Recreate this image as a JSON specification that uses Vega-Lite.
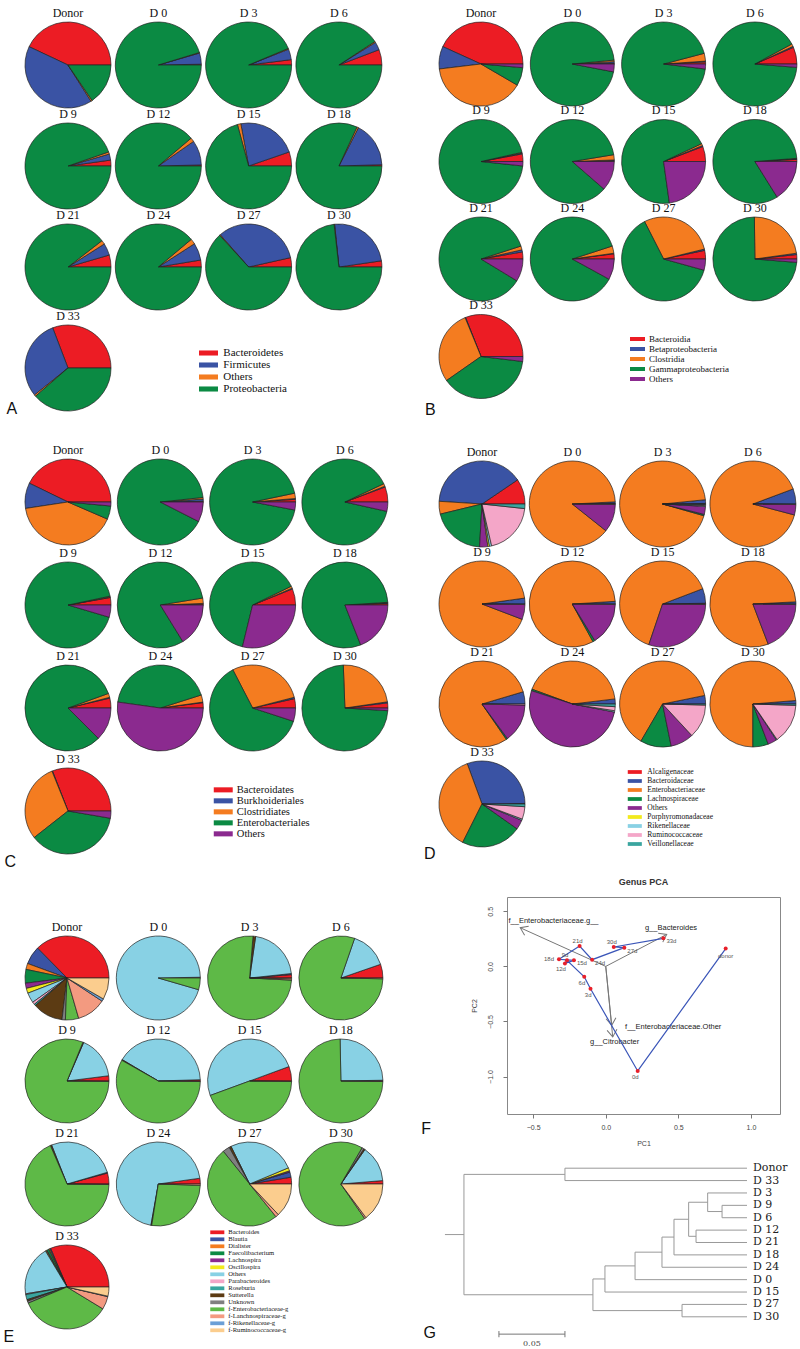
{
 "$schema": "https://vega.github.io/schema/vega-lite/v6.json",
 "padding": {"left": 3, "top": 6, "right": 0, "bottom": 0},
 "background": "white",
 "config": {"view": {"stroke": null}, "font": "Liberation Sans"},
 "datasets": {
  "A": [
   {"s":"Donor","c":"Bacteroidetes","v":0.43},{"s":"Donor","c":"Firmicutes","v":0.41},{"s":"Donor","c":"Others","v":0.005},{"s":"Donor","c":"Proteobacteria","v":0.155},
   {"s":"D 0","c":"Bacteroidetes","v":0.003},{"s":"D 0","c":"Firmicutes","v":0.042},{"s":"D 0","c":"Others","v":0.002},{"s":"D 0","c":"Proteobacteria","v":0.953},
   {"s":"D 3","c":"Bacteroidetes","v":0.02},{"s":"D 3","c":"Firmicutes","v":0.04},{"s":"D 3","c":"Others","v":0.003},{"s":"D 3","c":"Proteobacteria","v":0.937},
   {"s":"D 6","c":"Bacteroidetes","v":0.058},{"s":"D 6","c":"Firmicutes","v":0.03},{"s":"D 6","c":"Others","v":0.004},{"s":"D 6","c":"Proteobacteria","v":0.908},
   {"s":"D 9","c":"Bacteroidetes","v":0.022},{"s":"D 9","c":"Firmicutes","v":0.023},{"s":"D 9","c":"Others","v":0.008},{"s":"D 9","c":"Proteobacteria","v":0.947},
   {"s":"D 12","c":"Bacteroidetes","v":0.004},{"s":"D 12","c":"Firmicutes","v":0.093},{"s":"D 12","c":"Others","v":0.015},{"s":"D 12","c":"Proteobacteria","v":0.888},
   {"s":"D 15","c":"Bacteroidetes","v":0.053},{"s":"D 15","c":"Firmicutes","v":0.226},{"s":"D 15","c":"Others","v":0.013},{"s":"D 15","c":"Proteobacteria","v":0.708},
   {"s":"D 18","c":"Bacteroidetes","v":0.005},{"s":"D 18","c":"Firmicutes","v":0.17},{"s":"D 18","c":"Others","v":0.006},{"s":"D 18","c":"Proteobacteria","v":0.819},
   {"s":"D 21","c":"Bacteroidetes","v":0.045},{"s":"D 21","c":"Firmicutes","v":0.045},{"s":"D 21","c":"Others","v":0.015},{"s":"D 21","c":"Proteobacteria","v":0.895},
   {"s":"D 24","c":"Bacteroidetes","v":0.026},{"s":"D 24","c":"Firmicutes","v":0.065},{"s":"D 24","c":"Others","v":0.02},{"s":"D 24","c":"Proteobacteria","v":0.889},
   {"s":"D 27","c":"Bacteroidetes","v":0.035},{"s":"D 27","c":"Firmicutes","v":0.33},{"s":"D 27","c":"Others","v":0.003},{"s":"D 27","c":"Proteobacteria","v":0.632},
   {"s":"D 30","c":"Bacteroidetes","v":0.023},{"s":"D 30","c":"Firmicutes","v":0.243},{"s":"D 30","c":"Others","v":0.002},{"s":"D 30","c":"Proteobacteria","v":0.732},
   {"s":"D 33","c":"Bacteroidetes","v":0.308},{"s":"D 33","c":"Firmicutes","v":0.30},{"s":"D 33","c":"Others","v":0.006},{"s":"D 33","c":"Proteobacteria","v":0.386}
  ],
  "B": [
   {"s":"Donor","c":"Bacteroidia","v":0.432},{"s":"Donor","c":"Betaproteobacteria","v":0.087},{"s":"Donor","c":"Clostridia","v":0.397},{"s":"Donor","c":"Gammaproteobacteria","v":0.07},{"s":"Donor","c":"Others","v":0.014},
   {"s":"D 0","c":"Bacteroidia","v":0.003},{"s":"D 0","c":"Betaproteobacteria","v":0.006},{"s":"D 0","c":"Clostridia","v":0.006},{"s":"D 0","c":"Gammaproteobacteria","v":0.955},{"s":"D 0","c":"Others","v":0.03},
   {"s":"D 3","c":"Bacteroidia","v":0.008},{"s":"D 3","c":"Betaproteobacteria","v":0.003},{"s":"D 3","c":"Clostridia","v":0.03},{"s":"D 3","c":"Gammaproteobacteria","v":0.94},{"s":"D 3","c":"Others","v":0.019},
   {"s":"D 6","c":"Bacteroidia","v":0.065},{"s":"D 6","c":"Betaproteobacteria","v":0.004},{"s":"D 6","c":"Clostridia","v":0.01},{"s":"D 6","c":"Gammaproteobacteria","v":0.908},{"s":"D 6","c":"Others","v":0.013},
   {"s":"D 9","c":"Bacteroidia","v":0.029},{"s":"D 9","c":"Betaproteobacteria","v":0.003},{"s":"D 9","c":"Clostridia","v":0.003},{"s":"D 9","c":"Gammaproteobacteria","v":0.948},{"s":"D 9","c":"Others","v":0.017},
   {"s":"D 12","c":"Bacteroidia","v":0.004},{"s":"D 12","c":"Betaproteobacteria","v":0.002},{"s":"D 12","c":"Clostridia","v":0.02},{"s":"D 12","c":"Gammaproteobacteria","v":0.86},{"s":"D 12","c":"Others","v":0.114},
   {"s":"D 15","c":"Bacteroidia","v":0.058},{"s":"D 15","c":"Betaproteobacteria","v":0.004},{"s":"D 15","c":"Clostridia","v":0.008},{"s":"D 15","c":"Gammaproteobacteria","v":0.702},{"s":"D 15","c":"Others","v":0.228},
   {"s":"D 18","c":"Bacteroidia","v":0.008},{"s":"D 18","c":"Betaproteobacteria","v":0.002},{"s":"D 18","c":"Clostridia","v":0.002},{"s":"D 18","c":"Gammaproteobacteria","v":0.827},{"s":"D 18","c":"Others","v":0.161},
   {"s":"D 21","c":"Bacteroidia","v":0.027},{"s":"D 21","c":"Betaproteobacteria","v":0.008},{"s":"D 21","c":"Clostridia","v":0.015},{"s":"D 21","c":"Gammaproteobacteria","v":0.863},{"s":"D 21","c":"Others","v":0.087},
   {"s":"D 24","c":"Bacteroidia","v":0.02},{"s":"D 24","c":"Betaproteobacteria","v":0.002},{"s":"D 24","c":"Clostridia","v":0.028},{"s":"D 24","c":"Gammaproteobacteria","v":0.87},{"s":"D 24","c":"Others","v":0.08},
   {"s":"D 27","c":"Bacteroidia","v":0.033},{"s":"D 27","c":"Betaproteobacteria","v":0.005},{"s":"D 27","c":"Clostridia","v":0.287},{"s":"D 27","c":"Gammaproteobacteria","v":0.632},{"s":"D 27","c":"Others","v":0.043},
   {"s":"D 30","c":"Bacteroidia","v":0.017},{"s":"D 30","c":"Betaproteobacteria","v":0.005},{"s":"D 30","c":"Clostridia","v":0.23},{"s":"D 30","c":"Gammaproteobacteria","v":0.735},{"s":"D 30","c":"Others","v":0.013},
   {"s":"D 33","c":"Bacteroidia","v":0.31},{"s":"D 33","c":"Betaproteobacteria","v":0.002},{"s":"D 33","c":"Clostridia","v":0.285},{"s":"D 33","c":"Gammaproteobacteria","v":0.384},{"s":"D 33","c":"Others","v":0.019}
  ],
  "C": [
   {"s":"Donor","c":"Bacteroidates","v":0.428},{"s":"Donor","c":"Burkhoideriales","v":0.096},{"s":"Donor","c":"Clostridiates","v":0.411},{"s":"Donor","c":"Enterobacteriales","v":0.05},{"s":"Donor","c":"Others","v":0.015},
   {"s":"D 0","c":"Bacteroidates","v":0.003},{"s":"D 0","c":"Burkhoideriales","v":0.008},{"s":"D 0","c":"Clostridiates","v":0.006},{"s":"D 0","c":"Enterobacteriales","v":0.908},{"s":"D 0","c":"Others","v":0.075},
   {"s":"D 3","c":"Bacteroidates","v":0.01},{"s":"D 3","c":"Burkhoideriales","v":0.003},{"s":"D 3","c":"Clostridiates","v":0.02},{"s":"D 3","c":"Enterobacteriales","v":0.937},{"s":"D 3","c":"Others","v":0.03},
   {"s":"D 6","c":"Bacteroidates","v":0.057},{"s":"D 6","c":"Burkhoideriales","v":0.003},{"s":"D 6","c":"Clostridiates","v":0.01},{"s":"D 6","c":"Enterobacteriales","v":0.895},{"s":"D 6","c":"Others","v":0.035},
   {"s":"D 9","c":"Bacteroidates","v":0.028},{"s":"D 9","c":"Burkhoideriales","v":0.002},{"s":"D 9","c":"Clostridiates","v":0.003},{"s":"D 9","c":"Enterobacteriales","v":0.921},{"s":"D 9","c":"Others","v":0.046},
   {"s":"D 12","c":"Bacteroidates","v":0.004},{"s":"D 12","c":"Burkhoideriales","v":0.002},{"s":"D 12","c":"Clostridiates","v":0.02},{"s":"D 12","c":"Enterobacteriales","v":0.812},{"s":"D 12","c":"Others","v":0.162},
   {"s":"D 15","c":"Bacteroidates","v":0.061},{"s":"D 15","c":"Burkhoideriales","v":0.003},{"s":"D 15","c":"Clostridiates","v":0.008},{"s":"D 15","c":"Enterobacteriales","v":0.64},{"s":"D 15","c":"Others","v":0.288},
   {"s":"D 18","c":"Bacteroidates","v":0.006},{"s":"D 18","c":"Burkhoideriales","v":0.002},{"s":"D 18","c":"Clostridiates","v":0.002},{"s":"D 18","c":"Enterobacteriales","v":0.8},{"s":"D 18","c":"Others","v":0.19},
   {"s":"D 21","c":"Bacteroidates","v":0.037},{"s":"D 21","c":"Burkhoideriales","v":0.003},{"s":"D 21","c":"Clostridiates","v":0.015},{"s":"D 21","c":"Enterobacteriales","v":0.82},{"s":"D 21","c":"Others","v":0.125},
   {"s":"D 24","c":"Bacteroidates","v":0.02},{"s":"D 24","c":"Burkhoideriales","v":0.002},{"s":"D 24","c":"Clostridiates","v":0.027},{"s":"D 24","c":"Enterobacteriales","v":0.429},{"s":"D 24","c":"Others","v":0.522},
   {"s":"D 27","c":"Bacteroidates","v":0.035},{"s":"D 27","c":"Burkhoideriales","v":0.005},{"s":"D 27","c":"Clostridiates","v":0.286},{"s":"D 27","c":"Enterobacteriales","v":0.624},{"s":"D 27","c":"Others","v":0.05},
   {"s":"D 30","c":"Bacteroidates","v":0.019},{"s":"D 30","c":"Burkhoideriales","v":0.004},{"s":"D 30","c":"Clostridiates","v":0.233},{"s":"D 30","c":"Enterobacteriales","v":0.734},{"s":"D 30","c":"Others","v":0.01},
   {"s":"D 33","c":"Bacteroidates","v":0.309},{"s":"D 33","c":"Burkhoideriales","v":0.002},{"s":"D 33","c":"Clostridiates","v":0.295},{"s":"D 33","c":"Enterobacteriales","v":0.367},{"s":"D 33","c":"Others","v":0.027}
  ],
  "D": [
   {"s":"Donor","c":"Alcaligenaceae","v":0.095},{"s":"Donor","c":"Bacteroidaceae","v":0.395},{"s":"Donor","c":"Enterobacteriaceae","v":0.048},{"s":"Donor","c":"Lachnospiraceae","v":0.203},{"s":"Donor","c":"Others","v":0.031},{"s":"Donor","c":"Porphyromonadaceae","v":0.006},{"s":"Donor","c":"Rikenellaceae","v":0.008},{"s":"Donor","c":"Ruminococcaceae","v":0.197},{"s":"Donor","c":"Veillonellaceae","v":0.017},
   {"s":"D 0","c":"Alcaligenaceae","v":0.002},{"s":"D 0","c":"Bacteroidaceae","v":0.006},{"s":"D 0","c":"Enterobacteriaceae","v":0.885},{"s":"D 0","c":"Others","v":0.105},{"s":"D 0","c":"Ruminococcaceae","v":0.002},
   {"s":"D 3","c":"Alcaligenaceae","v":0.002},{"s":"D 3","c":"Bacteroidaceae","v":0.014},{"s":"D 3","c":"Enterobacteriaceae","v":0.94},{"s":"D 3","c":"Lachnospiraceae","v":0.005},{"s":"D 3","c":"Others","v":0.03},{"s":"D 3","c":"Rikenellaceae","v":0.003},{"s":"D 3","c":"Ruminococcaceae","v":0.004},{"s":"D 3","c":"Veillonellaceae","v":0.002},
   {"s":"D 6","c":"Bacteroidaceae","v":0.057},{"s":"D 6","c":"Enterobacteriaceae","v":0.902},{"s":"D 6","c":"Others","v":0.039},{"s":"D 6","c":"Ruminococcaceae","v":0.002},
   {"s":"D 9","c":"Bacteroidaceae","v":0.022},{"s":"D 9","c":"Enterobacteriaceae","v":0.92},{"s":"D 9","c":"Others","v":0.056},{"s":"D 9","c":"Ruminococcaceae","v":0.002},
   {"s":"D 12","c":"Bacteroidaceae","v":0.01},{"s":"D 12","c":"Enterobacteriaceae","v":0.82},{"s":"D 12","c":"Lachnospiraceae","v":0.008},{"s":"D 12","c":"Others","v":0.16},{"s":"D 12","c":"Ruminococcaceae","v":0.002},
   {"s":"D 15","c":"Alcaligenaceae","v":0.003},{"s":"D 15","c":"Bacteroidaceae","v":0.055},{"s":"D 15","c":"Enterobacteriaceae","v":0.64},{"s":"D 15","c":"Others","v":0.3},{"s":"D 15","c":"Ruminococcaceae","v":0.002},
   {"s":"D 18","c":"Bacteroidaceae","v":0.008},{"s":"D 18","c":"Enterobacteriaceae","v":0.8},{"s":"D 18","c":"Others","v":0.19},{"s":"D 18","c":"Ruminococcaceae","v":0.002},
   {"s":"D 21","c":"Bacteroidaceae","v":0.046},{"s":"D 21","c":"Enterobacteriaceae","v":0.8},{"s":"D 21","c":"Lachnospiraceae","v":0.005},{"s":"D 21","c":"Others","v":0.145},{"s":"D 21","c":"Ruminococcaceae","v":0.004},
   {"s":"D 24","c":"Bacteroidaceae","v":0.019},{"s":"D 24","c":"Enterobacteriaceae","v":0.425},{"s":"D 24","c":"Lachnospiraceae","v":0.006},{"s":"D 24","c":"Others","v":0.52},{"s":"D 24","c":"Rikenellaceae","v":0.005},{"s":"D 24","c":"Ruminococcaceae","v":0.015},{"s":"D 24","c":"Veillonellaceae","v":0.01},
   {"s":"D 27","c":"Bacteroidaceae","v":0.032},{"s":"D 27","c":"Enterobacteriaceae","v":0.634},{"s":"D 27","c":"Lachnospiraceae","v":0.116},{"s":"D 27","c":"Others","v":0.087},{"s":"D 27","c":"Ruminococcaceae","v":0.127},{"s":"D 27","c":"Veillonellaceae","v":0.004},
   {"s":"D 30","c":"Bacteroidaceae","v":0.013},{"s":"D 30","c":"Enterobacteriaceae","v":0.737},{"s":"D 30","c":"Lachnospiraceae","v":0.058},{"s":"D 30","c":"Others","v":0.034},{"s":"D 30","c":"Rikenellaceae","v":0.003},{"s":"D 30","c":"Ruminococcaceae","v":0.15},{"s":"D 30","c":"Veillonellaceae","v":0.005},
   {"s":"D 33","c":"Alcaligenaceae","v":0.002},{"s":"D 33","c":"Bacteroidaceae","v":0.304},{"s":"D 33","c":"Enterobacteriaceae","v":0.37},{"s":"D 33","c":"Lachnospiraceae","v":0.226},{"s":"D 33","c":"Others","v":0.036},{"s":"D 33","c":"Rikenellaceae","v":0.005},{"s":"D 33","c":"Ruminococcaceae","v":0.047},{"s":"D 33","c":"Veillonellaceae","v":0.01}
  ],
  "E": [
   {"s":"Donor","c":"Bacteroides","v":0.374},{"s":"Donor","c":"Blautia","v":0.07},{"s":"Donor","c":"Dialister","v":0.023},{"s":"Donor","c":"Faecolibacterium","v":0.053},{"s":"Donor","c":"Lachnospira","v":0.02},{"s":"Donor","c":"Oscillospira","v":0.019},{"s":"Donor","c":"Others","v":0.039},{"s":"Donor","c":"Parabacteroides","v":0.01},{"s":"Donor","c":"Roseburia","v":0.006},{"s":"Donor","c":"Sutterella","v":0.117},{"s":"Donor","c":"Unknown","v":0.013},{"s":"Donor","c":"f-Enterobacteriaceae-g","v":0.051},{"s":"Donor","c":"f-Lanchnospiraceae-g","v":0.112},{"s":"Donor","c":"f-Rikenellaceae-g","v":0.01},{"s":"Donor","c":"f-Ruminococcaceae-g","v":0.083},
   {"s":"D 0","c":"Bacteroides","v":0.003},{"s":"D 0","c":"Others","v":0.952},{"s":"D 0","c":"f-Enterobacteriaceae-g","v":0.045},
   {"s":"D 3","c":"Bacteroides","v":0.013},{"s":"D 3","c":"Blautia","v":0.004},{"s":"D 3","c":"Others","v":0.21},{"s":"D 3","c":"Sutterella","v":0.01},{"s":"D 3","c":"f-Enterobacteriaceae-g","v":0.755},{"s":"D 3","c":"f-Lanchnospiraceae-g","v":0.005},{"s":"D 3","c":"f-Ruminococcaceae-g","v":0.003},
   {"s":"D 6","c":"Bacteroides","v":0.053},{"s":"D 6","c":"Others","v":0.144},{"s":"D 6","c":"f-Enterobacteriaceae-g","v":0.8},{"s":"D 6","c":"f-Ruminococcaceae-g","v":0.003},
   {"s":"D 9","c":"Bacteroides","v":0.02},{"s":"D 9","c":"Others","v":0.165},{"s":"D 9","c":"Sutterella","v":0.003},{"s":"D 9","c":"f-Enterobacteriaceae-g","v":0.81},{"s":"D 9","c":"f-Lanchnospiraceae-g","v":0.002},
   {"s":"D 12","c":"Bacteroides","v":0.005},{"s":"D 12","c":"Others","v":0.41},{"s":"D 12","c":"Sutterella","v":0.003},{"s":"D 12","c":"f-Enterobacteriaceae-g","v":0.58},{"s":"D 12","c":"f-Lanchnospiraceae-g","v":0.002},
   {"s":"D 15","c":"Bacteroides","v":0.056},{"s":"D 15","c":"Others","v":0.5},{"s":"D 15","c":"f-Enterobacteriaceae-g","v":0.442},{"s":"D 15","c":"f-Lanchnospiraceae-g","v":0.002},
   {"s":"D 18","c":"Bacteroides","v":0.003},{"s":"D 18","c":"Others","v":0.25},{"s":"D 18","c":"f-Enterobacteriaceae-g","v":0.745},{"s":"D 18","c":"f-Lanchnospiraceae-g","v":0.002},
   {"s":"D 21","c":"Bacteroides","v":0.042},{"s":"D 21","c":"Blautia","v":0.003},{"s":"D 21","c":"Others","v":0.265},{"s":"D 21","c":"Sutterella","v":0.005},{"s":"D 21","c":"f-Enterobacteriaceae-g","v":0.683},{"s":"D 21","c":"f-Lanchnospiraceae-g","v":0.002},
   {"s":"D 24","c":"Bacteroides","v":0.022},{"s":"D 24","c":"Others","v":0.7},{"s":"D 24","c":"Sutterella","v":0.003},{"s":"D 24","c":"f-Enterobacteriaceae-g","v":0.27},{"s":"D 24","c":"f-Lanchnospiraceae-g","v":0.005},
   {"s":"D 27","c":"Bacteroides","v":0.026},{"s":"D 27","c":"Blautia","v":0.02},{"s":"D 27","c":"Lachnospira","v":0.005},{"s":"D 27","c":"Oscillospira","v":0.012},{"s":"D 27","c":"Others","v":0.26},{"s":"D 27","c":"Sutterella","v":0.008},{"s":"D 27","c":"Unknown","v":0.027},{"s":"D 27","c":"f-Enterobacteriaceae-g","v":0.5},{"s":"D 27","c":"f-Lanchnospiraceae-g","v":0.012},{"s":"D 27","c":"f-Ruminococcaceae-g","v":0.13},
   {"s":"D 30","c":"Bacteroides","v":0.013},{"s":"D 30","c":"Others","v":0.14},{"s":"D 30","c":"Sutterella","v":0.005},{"s":"D 30","c":"Unknown","v":0.008},{"s":"D 30","c":"f-Enterobacteriaceae-g","v":0.68},{"s":"D 30","c":"f-Lanchnospiraceae-g","v":0.006},{"s":"D 30","c":"f-Ruminococcaceae-g","v":0.148},
   {"s":"D 33","c":"Bacteroides","v":0.314},{"s":"D 33","c":"Blautia","v":0.004},{"s":"D 33","c":"Dialister","v":0.004},{"s":"D 33","c":"Faecolibacterium","v":0.008},{"s":"D 33","c":"Lachnospira","v":0.003},{"s":"D 33","c":"Oscillospira","v":0.003},{"s":"D 33","c":"Others","v":0.19},{"s":"D 33","c":"Parabacteroides","v":0.003},{"s":"D 33","c":"Roseburia","v":0.02},{"s":"D 33","c":"Sutterella","v":0.006},{"s":"D 33","c":"Unknown","v":0.008},{"s":"D 33","c":"f-Enterobacteriaceae-g","v":0.35},{"s":"D 33","c":"f-Lanchnospiraceae-g","v":0.05},{"s":"D 33","c":"f-Rikenellaceae-g","v":0.002},{"s":"D 33","c":"f-Ruminococcaceae-g","v":0.035}
  ],
  "pca": [
   {"n":"donor","t":-1,"x":0.826,"y":0.162},{"n":"0d","t":0,"x":0.22,"y":-0.949},{"n":"3d","t":3,"x":-0.105,"y":-0.203},{"n":"6d","t":6,"x":-0.148,"y":-0.094},{"n":"9d","t":9,"x":-0.267,"y":0.055},{"n":"12d","t":12,"x":-0.281,"y":0.027},{"n":"15d","t":15,"x":-0.219,"y":0.055},{"n":"18d","t":18,"x":-0.322,"y":0.064},{"n":"21d","t":21,"x":-0.18,"y":0.185},{"n":"24d","t":24,"x":-0.094,"y":0.061},{"n":"27d","t":27,"x":0.128,"y":0.17},{"n":"30d","t":30,"x":0.055,"y":0.176},{"n":"33d","t":33,"x":0.397,"y":0.255}
  ],
  "arrows": [
   {"n":"f__Enterobacteriaceae.g__","x":-0.589,"y":0.351,"lx":-0.67,"ly":0.41},
   {"n":"g__Bacteroides","x":0.42,"y":0.29,"lx":0.27,"ly":0.352},
   {"n":"f__Enterobacteriaceae.Other","x":0.041,"y":-0.535,"lx":0.133,"ly":-0.55},
   {"n":"g__Citrobacter","x":0.048,"y":-0.64,"lx":-0.108,"ly":-0.69}
  ],
  "tree": [
   {"x":0.2288,"x2":0.2144,"y":5.36,"y2":5.36},{"x":0.2144,"x2":0.2144,"y":0.5,"y2":10.22},
   {"x":0.2144,"x2":0.1379,"y":0.5,"y2":0.5},{"x":0.2144,"x2":0.1167,"y":10.22,"y2":10.22},
   {"x":0.1379,"x2":0.1379,"y":0,"y2":1},{"x":0.1379,"x2":0,"y":0,"y2":0},{"x":0.1379,"x2":0,"y":1,"y2":1},
   {"x":0.1167,"x2":0.1167,"y":8.945,"y2":11.5},{"x":0.1167,"x2":0.1076,"y":8.945,"y2":8.945},{"x":0.1167,"x2":0.0492,"y":11.5,"y2":11.5},
   {"x":0.0492,"x2":0.0492,"y":11,"y2":12},{"x":0.0492,"x2":0,"y":11,"y2":11},{"x":0.0492,"x2":0,"y":12,"y2":12},
   {"x":0.1076,"x2":0.1076,"y":7.89,"y2":10},{"x":0.1076,"x2":0,"y":10,"y2":10},{"x":0.1076,"x2":0.0848,"y":7.89,"y2":7.89},
   {"x":0.0848,"x2":0.0848,"y":6.78,"y2":9},{"x":0.0848,"x2":0,"y":9,"y2":9},{"x":0.0848,"x2":0.0644,"y":6.78,"y2":6.78},
   {"x":0.0644,"x2":0.0644,"y":5.5625,"y2":8},{"x":0.0644,"x2":0,"y":8,"y2":8},{"x":0.0644,"x2":0.0553,"y":5.5625,"y2":5.5625},
   {"x":0.0553,"x2":0.0553,"y":4.125,"y2":7},{"x":0.0553,"x2":0,"y":7,"y2":7},{"x":0.0553,"x2":0.0442,"y":4.125,"y2":4.125},
   {"x":0.0442,"x2":0.0442,"y":2.75,"y2":5.5},{"x":0.0442,"x2":0.0386,"y":5.5,"y2":5.5},
   {"x":0.0386,"x2":0.0386,"y":5,"y2":6},{"x":0.0386,"x2":0,"y":5,"y2":5},{"x":0.0386,"x2":0,"y":6,"y2":6},
   {"x":0.0442,"x2":0.0298,"y":2.75,"y2":2.75},{"x":0.0298,"x2":0.0298,"y":2,"y2":3.5},{"x":0.0298,"x2":0,"y":2,"y2":2},
   {"x":0.0298,"x2":0.0189,"y":3.5,"y2":3.5},{"x":0.0189,"x2":0.0189,"y":3,"y2":4},{"x":0.0189,"x2":0,"y":3,"y2":3},{"x":0.0189,"x2":0,"y":4,"y2":4}
  ],
  "leaves": [
   {"n":"Donor","y":0},{"n":"D 33","y":1},{"n":"D 3","y":2},{"n":"D 9","y":3},{"n":"D 6","y":4},{"n":"D 12","y":5},{"n":"D 21","y":6},{"n":"D 18","y":7},{"n":"D 24","y":8},{"n":"D 0","y":9},{"n":"D 15","y":10},{"n":"D 27","y":11},{"n":"D 30","y":12}
  ],
  "bar": [
   {"x":0.1879,"x2":0.1379,"y":13.4,"y2":13.4},{"x":0.1879,"x2":0.1879,"y":13.15,"y2":13.65},{"x":0.1379,"x2":0.1379,"y":13.15,"y2":13.65}
  ]
 },
 "spacing": 31,
 "resolve": {"scale": {"color": "independent"}, "legend": {"color": "independent"}},
 "hconcat": [
  {
   "spacing": 25,
   "resolve": {"scale": {"color": "independent"}, "legend": {"color": "independent"}},
   "vconcat": [
    {
     "data": {"name": "A"},
     "facet": {"field": "s", "type": "nominal", "sort": ["Donor","D 0","D 3","D 6","D 9","D 12","D 15","D 18","D 21","D 24","D 27","D 30","D 33"], "header": {"title": null, "labelFont": "Liberation Serif", "labelFontSize": 12, "labelPadding": 1, "labelColor": "#111"}},
     "columns": 4,
     "spacing": {"row": -3, "column": 0.3},
     "title": {"text": "A", "orient": "bottom", "anchor": "start", "dx": -17, "offset": -11, "font": "Liberation Sans", "fontSize": 16, "fontWeight": "normal", "color": "#111"},
     "spec": {
      "width": 86, "height": 86, "view": {"stroke": null},
      "mark": {"type": "arc", "stroke": "#222", "strokeWidth": 0.7},
      "encoding": {
       "theta": {"field": "v", "type": "quantitative", "stack": "normalize", "scale": {"domain": [0, 1], "range": [1.5708, -4.7124]}},
       "color": {"field": "c", "type": "nominal", "scale": {"domain": ["Bacteroidetes","Firmicutes","Others","Proteobacteria"], "range": ["#ec1c24","#3a53a4","#f47c20","#0b8a43"]},
        "legend": {"title": null, "orient": "none", "legendX": 178, "legendY": 325.5, "padding": 0, "symbolType": "M-3,-0.8H3V0.8H-3Z", "symbolSize": 40, "symbolStrokeWidth": 0, "labelFont": "Liberation Serif", "labelFontSize": 11, "labelColor": "#111", "rowPadding": 0, "labelOffset": 9.3}},
       "order": {"field": "c", "sort": "ascending"}
      }
     }
    },
    {
     "spacing": 49,
     "resolve": {"scale": {"color": "independent"}, "legend": {"color": "independent"}},
     "vconcat": [
      {
       "data": {"name": "C"},
       "facet": {"field": "s", "type": "nominal", "sort": ["Donor","D 0","D 3","D 6","D 9","D 12","D 15","D 18","D 21","D 24","D 27","D 30","D 33"], "header": {"title": null, "labelFont": "Liberation Serif", "labelFontSize": 12, "labelPadding": 1, "labelColor": "#111"}},
       "columns": 4,
       "spacing": {"row": -1, "column": 2.3},
       "title": {"text": "C", "orient": "bottom", "anchor": "start", "dx": -19, "offset": -1, "font": "Liberation Sans", "fontSize": 16, "fontWeight": "normal", "color": "#111"},
       "spec": {
        "width": 86, "height": 86, "view": {"stroke": null},
        "mark": {"type": "arc", "stroke": "#222", "strokeWidth": 0.7},
        "encoding": {
         "theta": {"field": "v", "type": "quantitative", "stack": "normalize", "scale": {"domain": [0, 1], "range": [1.5708, -4.7124]}},
         "color": {"field": "c", "type": "nominal", "scale": {"domain": ["Bacteroidates","Burkhoideriales","Clostridiates","Enterobacteriales","Others"], "range": ["#ec1c24","#3a53a4","#f47c20","#0b8a43","#8b2a8f"]},
          "legend": {"title": null, "orient": "none", "legendX": 193, "legendY": 325.6, "padding": 0, "symbolType": "M-3,-0.8H3V0.8H-3Z", "symbolSize": 40, "symbolStrokeWidth": 0, "labelFont": "Liberation Serif", "labelFontSize": 10.5, "labelColor": "#111", "rowPadding": 0, "labelOffset": 8.3}},
         "order": {"field": "c", "sort": "ascending"}
        }
       }
      },
      {
       "data": {"name": "E"},
       "facet": {"field": "s", "type": "nominal", "sort": ["Donor","D 0","D 3","D 6","D 9","D 12","D 15","D 18","D 21","D 24","D 27","D 30","D 33"], "header": {"title": null, "labelFont": "Liberation Serif", "labelFontSize": 12, "labelPadding": 1, "labelColor": "#111"}},
       "columns": 4,
       "spacing": {"row": 1, "column": 3.3},
       "title": {"text": "E", "orient": "bottom", "anchor": "start", "dx": -20, "offset": -5, "font": "Liberation Sans", "fontSize": 16, "fontWeight": "normal", "color": "#111"},
       "spec": {
        "width": 84, "height": 84, "view": {"stroke": null},
        "mark": {"type": "arc", "stroke": "#222", "strokeWidth": 0.7},
        "encoding": {
         "theta": {"field": "v", "type": "quantitative", "stack": "normalize", "scale": {"domain": [0, 1], "range": [1.5708, -4.7124]}},
         "color": {"field": "c", "type": "nominal", "scale": {"domain": ["Bacteroides","Blautia","Dialister","Faecolibacterium","Lachnospira","Oscillospira","Others","Parabacteroides","Roseburia","Sutterella","Unknown","f-Enterobacteriaceae-g","f-Lanchnospiraceae-g","f-Rikenellaceae-g","f-Ruminococcaceae-g"], "range": ["#ec1c24","#3a53a4","#f47c20","#0b8a43","#8b2a8f","#f2ea1d","#88d1e4","#f4a6c8","#3aa59f","#5c3b13","#808080","#5eb947","#f39a80","#6b9fd6","#fbcd8e"]},
          "legend": {"title": null, "orient": "none", "legendX": 189, "legendY": 293, "padding": 0, "symbolType": "M-3,-0.8H3V0.8H-3Z", "symbolSize": 22, "symbolStrokeWidth": 0, "labelFont": "Liberation Serif", "labelFontSize": 6.6, "labelColor": "#111", "rowPadding": 0, "labelOffset": 7.7}},
         "order": {"field": "c", "sort": "ascending"}
        }
       }
      }
     ]
    }
   ]
  },
  {
   "spacing": 26,
   "resolve": {"scale": {"color": "independent"}, "legend": {"color": "independent"}},
   "vconcat": [
    {
     "data": {"name": "B"},
     "facet": {"field": "s", "type": "nominal", "sort": ["Donor","D 0","D 3","D 6","D 9","D 12","D 15","D 18","D 21","D 24","D 27","D 30","D 33"], "header": {"title": null, "labelFont": "Liberation Serif", "labelFontSize": 12, "labelPadding": 1, "labelColor": "#111"}},
     "columns": 4,
     "spacing": {"row": -4.5, "column": 3.3},
     "title": {"text": "B", "orient": "bottom", "anchor": "start", "dx": -12.5, "offset": 2.5, "font": "Liberation Sans", "fontSize": 16, "fontWeight": "normal", "color": "#111"},
     "spec": {
      "width": 84, "height": 84, "view": {"stroke": null},
      "mark": {"type": "arc", "stroke": "#222", "strokeWidth": 0.7},
      "encoding": {
       "theta": {"field": "v", "type": "quantitative", "stack": "normalize", "scale": {"domain": [0, 1], "range": [1.5708, -4.7124]}},
       "color": {"field": "c", "type": "nominal", "scale": {"domain": ["Bacteroidia","Betaproteobacteria","Clostridia","Gammaproteobacteria","Others"], "range": ["#ec1c24","#3a53a4","#f47c20","#0b8a43","#8b2a8f"]},
        "legend": {"title": null, "orient": "none", "legendX": 194, "legendY": 312.5, "padding": 0, "symbolType": "M-3,-0.8H3V0.8H-3Z", "symbolSize": 25, "symbolStrokeWidth": 0, "labelFont": "Liberation Serif", "labelFontSize": 9, "labelColor": "#111", "rowPadding": 0, "labelOffset": 7}},
       "order": {"field": "c", "sort": "ascending"}
      }
     }
    },
    {
     "spacing": 14,
     "resolve": {"scale": {"color": "independent"}, "legend": {"color": "independent"}},
     "vconcat": [
      {
       "data": {"name": "D"},
       "facet": {"field": "s", "type": "nominal", "sort": ["Donor","D 0","D 3","D 6","D 9","D 12","D 15","D 18","D 21","D 24","D 27","D 30","D 33"], "header": {"title": null, "labelFont": "Liberation Serif", "labelFontSize": 12, "labelPadding": 1, "labelColor": "#111"}},
       "columns": 4,
       "spacing": {"row": -4, "column": 0.3},
       "title": {"text": "D", "orient": "bottom", "anchor": "start", "dx": -13.5, "offset": -2, "font": "Liberation Sans", "fontSize": 16, "fontWeight": "normal", "color": "#111"},
       "spec": {
        "width": 86, "height": 86, "view": {"stroke": null},
        "mark": {"type": "arc", "stroke": "#222", "strokeWidth": 0.7},
        "encoding": {
         "theta": {"field": "v", "type": "quantitative", "stack": "normalize", "scale": {"domain": [0, 1], "range": [1.5708, -4.7124]}},
         "color": {"field": "c", "type": "nominal", "scale": {"domain": ["Alcaligenaceae","Bacteroidaceae","Enterobacteriaceae","Lachnospiraceae","Others","Porphyromonadaceae","Rikenellaceae","Ruminococcaceae","Veillonellaceae"], "range": ["#ec1c24","#3a53a4","#f47c20","#0b8a43","#8b2a8f","#f2ea1d","#88d1e4","#f4a6c8","#3aa59f"]},
          "legend": {"title": null, "orient": "none", "legendX": 192, "legendY": 307.2, "padding": 0, "symbolType": "M-3,-0.8H3V0.8H-3Z", "symbolSize": 22, "symbolStrokeWidth": 0, "labelFont": "Liberation Serif", "labelFontSize": 7.6, "labelColor": "#111", "rowPadding": 0, "labelOffset": 8.7}},
         "order": {"field": "c", "sort": "ascending"}
        }
       }
      },
      {
       "spacing": 15,
       "vconcat": [
        {
         "title": {"text": "F", "orient": "bottom", "anchor": "start", "dx": -15.5, "offset": -26, "font": "Liberation Sans", "fontSize": 16, "fontWeight": "normal", "color": "#111"},
         "spacing": 26,
         "hconcat": [
          {"width": 1, "height": 1, "data": {"values": [{"a": 1}]}, "mark": {"type": "point", "opacity": 0}, "encoding": {}},
          {
           "width": 273, "height": 217,
           "view": {"stroke": "#888", "strokeWidth": 1},
           "title": {"text": "Genus PCA", "font": "Liberation Sans", "fontSize": 9, "fontWeight": "bold", "color": "#333", "offset": 10, "anchor": "middle", "frame": "group"},
           "layer": [
            {
             "data": {"name": "arrows"},
             "mark": {"type": "rule", "color": "#777", "strokeWidth": 1},
             "encoding": {
              "x": {"field": "x", "type": "quantitative", "scale": {"domain": [-0.68, 1.2], "nice": false, "zero": false},
               "axis": {"title": "PC1", "values": [-0.5, 0, 0.5, 1], "format": ".1f", "grid": false, "domain": false, "tickSize": 4, "tickColor": "#777", "labelColor": "#444", "labelFontSize": 7, "labelPadding": 5, "titleFontSize": 7, "titleFontWeight": "normal", "titleColor": "#444", "titlePadding": 9}},
              "y": {"field": "y", "type": "quantitative", "scale": {"domain": [-1.34, 0.63], "nice": false, "zero": false},
               "axis": {"title": "PC2", "values": [-1, -0.5, 0, 0.5], "format": ".1f", "grid": false, "domain": false, "tickSize": 4, "tickColor": "#777", "labelColor": "#444", "labelFontSize": 7, "labelAngle": 270, "labelAlign": "center", "labelBaseline": "bottom", "labelPadding": 10, "titleFontSize": 7, "titleFontWeight": "normal", "titleColor": "#444", "titlePadding": 9}},
              "x2": {"datum": 0},
              "y2": {"datum": 0}
             }
            },
            {
             "data": {"name": "arrows"},
             "transform": [{"calculate": "atan2(-datum.y * 110, datum.x * 145) * 180 / PI", "as": "ang"}],
             "mark": {"type": "point", "shape": "M-1,-0.7L0,0L-1,0.7", "filled": false, "stroke": "#777", "strokeWidth": 1, "size": 200, "opacity": 1},
             "encoding": {
              "x": {"field": "x", "type": "quantitative"},
              "y": {"field": "y", "type": "quantitative"},
              "angle": {"field": "ang", "type": "quantitative", "scale": null}
             }
            },
            {
             "data": {"name": "arrows"},
             "mark": {"type": "text", "align": "left", "baseline": "middle", "fontSize": 7.5, "color": "#222"},
             "encoding": {
              "x": {"field": "lx", "type": "quantitative"},
              "y": {"field": "ly", "type": "quantitative"},
              "text": {"field": "n"}
             }
            },
            {
             "data": {"name": "pca"},
             "mark": {"type": "line", "color": "#3a55b8", "strokeWidth": 1.2},
             "encoding": {
              "x": {"field": "x", "type": "quantitative"},
              "y": {"field": "y", "type": "quantitative"},
              "order": {"field": "t"}
             }
            },
            {
             "data": {"name": "pca"},
             "mark": {"type": "circle", "color": "#e8202a", "size": 16, "opacity": 1},
             "encoding": {
              "x": {"field": "x", "type": "quantitative"},
              "y": {"field": "y", "type": "quantitative"}
             }
            },
            {
             "data": {"name": "pca"},
             "transform": [{"filter": {"field": "n", "oneOf": ["12d", "6d", "3d", "0d"]}}],
             "mark": {"type": "text", "align": "right", "dx": 1, "dy": 6, "fontSize": 6, "color": "#555"},
             "encoding": {"x": {"field": "x", "type": "quantitative"}, "y": {"field": "y", "type": "quantitative"}, "text": {"field": "n"}}
            },
            {
             "data": {"name": "pca"},
             "transform": [{"filter": {"field": "n", "oneOf": ["18d"]}}],
             "mark": {"type": "text", "align": "right", "dx": -5, "dy": 0, "fontSize": 6, "color": "#555"},
             "encoding": {"x": {"field": "x", "type": "quantitative"}, "y": {"field": "y", "type": "quantitative"}, "text": {"field": "n"}}
            },
            {
             "data": {"name": "pca"},
             "transform": [{"filter": {"field": "n", "oneOf": ["24d", "27d", "15d", "33d"]}}],
             "mark": {"type": "text", "align": "left", "dx": 3, "dy": 3, "fontSize": 6, "color": "#555"},
             "encoding": {"x": {"field": "x", "type": "quantitative"}, "y": {"field": "y", "type": "quantitative"}, "text": {"field": "n"}}
            },
            {
             "data": {"name": "pca"},
             "transform": [{"filter": {"field": "n", "oneOf": ["21d", "30d", "9d"]}}],
             "mark": {"type": "text", "align": "center", "dx": -2, "dy": -5, "fontSize": 6, "color": "#555"},
             "encoding": {"x": {"field": "x", "type": "quantitative"}, "y": {"field": "y", "type": "quantitative"}, "text": {"field": "n"}}
            },
            {
             "data": {"name": "pca"},
             "transform": [{"filter": {"field": "n", "oneOf": ["donor"]}}],
             "mark": {"type": "text", "align": "center", "dx": 0, "dy": 7, "fontSize": 6, "color": "#555"},
             "encoding": {"x": {"field": "x", "type": "quantitative"}, "y": {"field": "y", "type": "quantitative"}, "text": {"field": "n"}}
            }
           ]
          }
         ]
        },
        {
         "width": 308, "height": 187,
         "view": {"stroke": null},
         "title": {"text": "G", "orient": "bottom", "anchor": "start", "dx": -15.5, "offset": -24, "font": "Liberation Sans", "fontSize": 16, "fontWeight": "normal", "color": "#111"},
         "layer": [
          {
           "data": {"name": "tree"},
           "mark": {"type": "rule", "color": "#999", "strokeWidth": 1},
           "encoding": {
            "x": {"field": "x", "type": "quantitative", "scale": {"domain": [0, 0.2333], "reverse": true, "nice": false, "zero": false}, "axis": null},
            "x2": {"field": "x2"},
            "y": {"field": "y", "type": "quantitative", "scale": {"domain": [-0.5, 14.6], "reverse": true, "nice": false, "zero": false}, "axis": null},
            "y2": {"field": "y2"}
           }
          },
          {
           "data": {"name": "bar"},
           "mark": {"type": "rule", "color": "#777", "strokeWidth": 1},
           "encoding": {
            "x": {"field": "x", "type": "quantitative"},
            "x2": {"field": "x2"},
            "y": {"field": "y", "type": "quantitative"},
            "y2": {"field": "y2"}
           }
          },
          {
           "data": {"values": [{"t": "0.05", "x": 0.1629, "y": 14.2}]},
           "mark": {"type": "text", "font": "DejaVu Serif", "fontSize": 8, "color": "#444", "baseline": "middle"},
           "encoding": {
            "x": {"field": "x", "type": "quantitative"},
            "y": {"field": "y", "type": "quantitative"},
            "text": {"field": "t"}
           }
          },
          {
           "data": {"name": "leaves"},
           "mark": {"type": "text", "align": "left", "baseline": "middle", "dx": 6, "font": "DejaVu Serif", "fontSize": 11, "color": "#222"},
           "encoding": {
            "x": {"datum": 0, "type": "quantitative"},
            "y": {"field": "y", "type": "quantitative"},
            "text": {"field": "n"}
           }
          }
         ]
        }
       ]
      }
     ]
    }
   ]
  }
 ]
}
